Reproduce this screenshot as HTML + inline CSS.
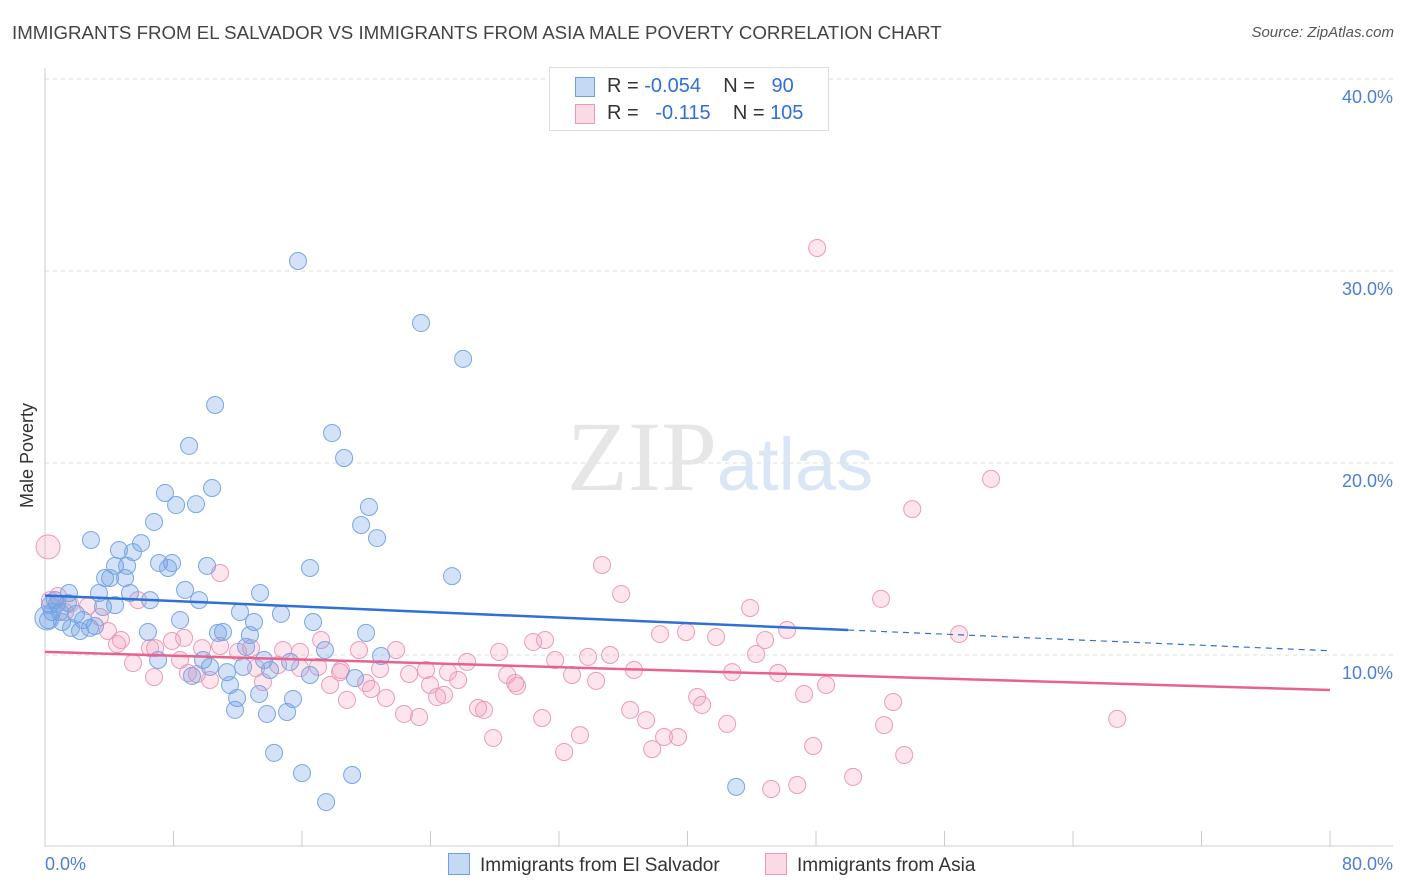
<!DOCTYPE html>
<html><head><meta charset="utf-8">
<style>
body{margin:0;background:#fff;font-family:"Liberation Sans",sans-serif;}
#wrap{position:relative;width:1406px;height:892px;overflow:hidden;}
.t{position:absolute;white-space:nowrap;}
</style></head>
<body>
<div id="wrap">
<div class="t" style="left:12px;top:22px;font-size:18.7px;color:#444;">IMMIGRANTS FROM EL SALVADOR VS IMMIGRANTS FROM ASIA MALE POVERTY CORRELATION CHART</div>
<div class="t" style="right:12px;top:24px;font-size:15px;color:#555;font-style:italic;">Source: ZipAtlas.com</div>
<div class="t" style="left:-25px;top:445px;font-size:18px;color:#333;transform:rotate(-90deg);">Male Poverty</div>
<svg id="svg" width="1406" height="892" style="position:absolute;left:0;top:0"></svg>
</div>
<script>
const blueX=[15.75,23.41,26.03,10.59,8.97,17.87,18.62,10.40,7.47,9.40,8.16,20.17,19.68,20.67,6.79,2.86,5.98,5.48,4.61,7.10,7.91,10.09,7.66,16.50,25.34,4.36,5.11,4.05,3.74,4.98,1.49,3.36,5.29,6.54,8.72,9.59,13.39,14.69,16.69,8.41,12.14,13.01,1.43,0.75,0.93,1.93,3.61,4.36,2.37,2.80,2.18,0.19,0.44,0.62,11.08,12.76,19.99,6.41,10.77,17.43,20.92,12.52,9.84,15.26,7.04,10.27,12.33,13.64,11.33,16.50,19.30,11.52,9.15,14.01,11.96,13.33,15.44,11.83,15.07,13.82,14.26,16.00,19.12,17.50,43.03,3.11,1.06,1.62,0.31,0.12];
const blueY=[30.52,27.29,25.42,23.02,20.89,21.56,20.26,18.70,18.44,17.86,17.81,17.71,16.77,16.09,16.93,15.99,15.83,15.36,15.47,14.79,14.79,14.64,14.53,14.53,14.11,14.64,14.64,14.01,14.01,14.01,13.23,13.23,13.23,12.86,13.39,12.86,13.23,12.14,11.72,11.82,12.24,11.72,12.71,12.66,12.24,12.14,12.50,12.60,11.82,11.41,11.25,11.82,12.24,12.86,11.20,11.04,11.15,11.20,11.15,10.26,9.95,10.42,9.74,9.64,9.74,9.38,9.38,9.74,9.11,8.96,8.80,8.44,8.91,9.22,7.76,7.97,7.71,7.14,7.03,6.93,4.90,3.85,3.75,2.34,3.13,11.51,11.72,11.41,12.60,11.93];
const pinkX=[48.07,58.90,53.99,0.19,34.68,10.90,35.87,52.05,43.90,46.20,56.91,38.29,39.91,41.78,44.83,31.13,30.39,0.81,1.25,2.68,3.42,3.92,4.73,5.79,4.48,6.54,7.91,6.85,5.48,8.66,9.78,10.90,12.02,12.83,14.82,15.88,17.19,19.55,21.86,28.27,35.18,33.81,44.27,31.76,26.28,25.09,23.72,20.86,18.43,15.88,14.51,13.14,13.57,10.27,8.90,8.41,6.79,9.46,17.00,17.75,19.99,18.37,22.67,25.72,23.97,28.77,29.39,32.81,34.31,36.67,42.78,45.64,29.27,20.30,18.80,21.23,24.41,24.84,27.33,26.96,22.35,23.29,36.43,37.42,40.60,40.91,47.26,48.63,52.80,42.47,52.24,30.95,27.90,33.31,38.54,39.41,32.32,37.80,47.82,53.49,50.31,45.21,46.83,66.75,0.31,1.56];
const pinkY=[31.20,19.17,17.60,15.63,14.69,14.27,13.18,12.92,12.45,11.30,11.09,11.09,11.20,10.94,10.78,10.78,10.68,13.07,12.24,12.55,11.98,11.25,10.78,12.86,10.57,10.36,10.73,10.36,9.58,10.89,10.36,10.47,10.16,10.36,10.26,10.16,10.78,10.26,10.26,10.16,10.00,9.90,10.05,9.74,9.64,9.11,9.22,9.27,9.22,9.32,9.48,9.32,8.59,8.70,9.06,9.74,8.85,9.01,9.38,8.44,8.54,9.11,9.01,8.70,8.44,8.96,8.39,8.96,8.65,9.22,9.11,9.06,8.54,8.23,7.66,7.76,7.81,7.92,7.14,7.24,6.93,6.77,7.14,6.61,7.81,7.40,7.97,8.44,7.55,6.41,6.35,6.72,5.68,5.83,5.73,5.73,4.95,5.10,5.26,4.79,3.65,3.02,3.23,6.67,12.86,12.66];
const blueTrend=[13.1,-0.036]; // intercept, slope
const pinkTrend=[10.16,-0.0248];
const yTicks=[10,20,30,40];
const yTickLabels=["10.0%","20.0%","30.0%","40.0%"];
const xTickVals=[0,8,16,24,32,40,48,56,64,72,80];

const NS="http://www.w3.org/2000/svg";
const svg=document.getElementById('svg');
const X=v=>45+v*1285/80;
const Y=v=>847-v*19.2;
function mk(tag,attrs,parent){const e=document.createElementNS(NS,tag);for(const k in attrs)e.setAttribute(k,attrs[k]);(parent||svg).appendChild(e);return e;}

yTicks.forEach((t,i)=>{
  const g=mk('line',{x1:45,x2:1393,y1:Y(t),y2:Y(t),stroke:'#ddd','stroke-dasharray':'4,4'});
  
  
  const tx=mk('text',{x:1393,y:Y(t)+24,'text-anchor':'end','font-size':18,fill:'#4a7fd4','font-family':'Liberation Sans, sans-serif'});
  tx.textContent=yTickLabels[i];
  
  
});
const ya=mk('line',{x1:45,x2:45,y1:68,y2:847,stroke:'#ccc'});


const xa=mk('line',{x1:45,x2:1393,y1:846,y2:846,stroke:'#ccc'});


xTickVals.forEach(v=>{
  const t=mk('line',{x1:X(v),x2:X(v),y1:831,y2:846,stroke:'#ccc'});
  
  
});
[[0,'0.0%','start',45],[80,'80.0%','end',1393]].forEach(a=>{
  const t=mk('text',{x:a[3],y:870,'text-anchor':a[2],'font-size':18,fill:'#4a7fd4','font-family':'Liberation Sans, sans-serif'});
  t.textContent=a[1];
  
  
});
const wm=mk('text',{x:720,y:490,'text-anchor':'middle','font-size':100,'font-family':'Liberation Serif, serif',fill:'#e6e6e6'});
wm.innerHTML='ZIP<tspan fill="#dae6f5" font-family="Liberation Sans, sans-serif" font-size="74">atlas</tspan>';



function dots(xs,ys,fill,stroke,name){
  xs.forEach((x,i)=>{
    const big=(name==='blue-point'&&i===xs.length-1)||(name==='pink-point'&&x<0.25&&ys[i]>15);
    const c=mk('circle',{cx:X(x),cy:Y(ys[i]),r:big?12:8.5,fill:fill,stroke:stroke,'stroke-width':1});
    
    
  });
}
dots(pinkX,pinkY,'rgba(244,160,190,0.28)','#eb9ab8','pink-point');
dots(blueX,blueY,'rgba(110,160,230,0.3)','#7aa6e0','blue-point');

const bt=v=>blueTrend[0]+blueTrend[1]*v, pt=v=>pinkTrend[0]+pinkTrend[1]*v;
let l=mk('line',{x1:X(0),y1:Y(bt(0)),x2:X(50),y2:Y(bt(50)),stroke:'#2f6fd6','stroke-width':2.5});


l=mk('line',{x1:X(50),y1:Y(bt(50)),x2:X(80),y2:Y(bt(80)),stroke:'#2f6fd6','stroke-width':1.2,'stroke-dasharray':'6,5'});


l=mk('line',{x1:X(0),y1:Y(pt(0)),x2:X(80),y2:Y(pt(80)),stroke:'#e8628f','stroke-width':2.5});


</script>
<div class="t" style="left:549px;top:67px;width:278px;height:62px;border:1px solid #ddd;background:#fff;font-size:20px;color:#333;">
  <div style="position:absolute;left:25px;top:9px;width:18px;height:18px;background:rgba(110,160,230,0.4);border:1px solid #6f9fdc;"></div>
  <div class="t" style="left:57px;top:7px;">R = <span style="color:#2f6fd6">-0.054</span>&nbsp;&nbsp;&nbsp; N = &nbsp;&nbsp;<span style="color:#2f6fd6">90</span></div>
  <div style="position:absolute;left:25px;top:36px;width:18px;height:18px;background:rgba(244,160,190,0.4);border:1px solid #eb9ab8;"></div>
  <div class="t" style="left:57px;top:34px;">R = &nbsp;&nbsp;<span style="color:#2f6fd6">-0.115</span>&nbsp;&nbsp;&nbsp; N = <span style="color:#2f6fd6">105</span></div>
</div>
<div class="t" style="left:448px;top:853px;font-size:19px;color:#333;">
  <span style="display:inline-block;width:20px;height:20px;background:rgba(110,160,230,0.4);border:1px solid #6f9fdc;vertical-align:-4px;margin-right:10px;"></span>Immigrants from El Salvador</div>
<div class="t" style="left:765px;top:853px;font-size:19px;color:#333;">
  <span style="display:inline-block;width:20px;height:20px;background:rgba(244,160,190,0.4);border:1px solid #eb9ab8;vertical-align:-4px;margin-right:10px;"></span>Immigrants from Asia</div>
</body></html>
